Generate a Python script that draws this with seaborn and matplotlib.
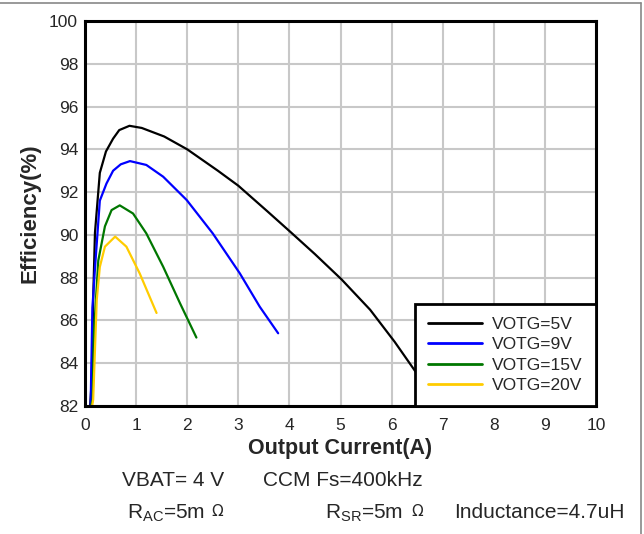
import numpy as np
import pandas as pd
import matplotlib
matplotlib.use('Agg')
import matplotlib.pyplot as plt
from matplotlib.lines import Line2D
import seaborn as sns

# efficiency curves
x_5v = [0.10, 0.13, 0.16, 0.195, 0.29, 0.41, 0.55, 0.67, 0.87, 1.11, 1.55, 2.0, 2.6, 3.0, 3.57, 4.01, 4.5, 5.02, 5.58, 6.06, 6.47, 6.9]
y_5v = [82.0, 83.1, 87.0, 90.1, 92.9, 93.9, 94.5, 94.9, 95.1, 95.0, 94.6, 94.0, 93.0, 92.3, 91.1, 90.16, 89.1, 87.92, 86.5, 85.0, 83.6, 82.2]

x_9v = [0.11, 0.145, 0.2, 0.29, 0.42, 0.55, 0.7, 0.88, 1.2, 1.53, 1.99, 2.5, 3.03, 3.42, 3.78]
y_9v = [82.0, 86.6, 88.6, 91.6, 92.4, 93.0, 93.3, 93.45, 93.27, 92.72, 91.63, 90.07, 88.2, 86.64, 85.4]

x_15v = [0.12, 0.15, 0.175, 0.26, 0.39, 0.52, 0.68, 0.94, 1.2, 1.53, 1.86, 2.18]
y_15v = [82.0, 82.3, 85.4, 88.8, 90.4, 91.16, 91.38, 91.0, 90.07, 88.51, 86.8, 85.2]

x_20v = [0.14, 0.16, 0.23, 0.29, 0.39, 0.59, 0.81, 1.07, 1.4]
y_20v = [82.0, 82.3, 86.96, 88.5, 89.45, 89.92, 89.45, 88.2, 86.35]

labels = ['VOTG=5V', 'VOTG=9V', 'VOTG=15V', 'VOTG=20V']
colors = ['#000000', '#0000ff', '#007700', '#ffcc00']

frames = []
for lab, xs, ys in zip(labels, [x_5v, x_9v, x_15v, x_20v], [y_5v, y_9v, y_15v, y_20v]):
    frames.append(pd.DataFrame({'current': xs, 'eff': ys, 'series': lab}))
df = pd.concat(frames, ignore_index=True)

sns.set_style('white')
plt.rcParams['font.family'] = ['Liberation Sans', 'DejaVu Sans']
plt.rcParams['mathtext.fontset'] = 'custom'
plt.rcParams['mathtext.rm'] = 'Liberation Sans'

fig = plt.figure(figsize=(6.44, 5.34), dpi=100)
ax = fig.add_axes([85 / 644, 1 - 406 / 534, 511 / 644, 385 / 534])

sns.lineplot(data=df, x='current', y='eff', hue='series', palette=colors,
             sort=False, estimator=None, linewidth=1.6, ax=ax, legend=False)

ax.set_xlim(0, 10)
ax.set_ylim(82, 100)
ax.set_xticks(range(0, 11))
ax.set_yticks(range(82, 101, 2))
ax.grid(True, color='#c8c8c8', linewidth=1.5)
ax.set_axisbelow(True)
ax.tick_params(axis='both', length=0, labelsize=12.5)
ax.tick_params(axis='x', pad=9)
ax.tick_params(axis='y', pad=5)
for s in ax.spines.values():
    s.set_visible(True)
    s.set_color('black')
    s.set_linewidth(2.2)
    s.set_zorder(6)

ax.set_xlabel('Output Current(A)', fontsize=15.5, fontweight='bold', labelpad=3)
ax.set_ylabel('Efficiency(%)', fontsize=16, fontweight='bold', labelpad=6)

handles = [Line2D([], [], color=c, linewidth=2) for c in colors]
leg = ax.legend(handles, labels, loc='lower right', borderaxespad=0, fancybox=False,
                edgecolor='black', framealpha=1, fontsize=12.5, handlelength=3.1,
                handletextpad=0.6, labelspacing=0.3, borderpad=0.75)
leg.get_frame().set_linewidth(2)
leg.set_zorder(7)

fs = 15
fig.text(122 / 644, 1 - 480 / 534, 'VBAT= 4 V', fontsize=fs, va='center')
fig.text(263 / 644, 1 - 480 / 534, 'CCM Fs=400kHz', fontsize=fs, va='center')
fig.text(127 / 644, 1 - 513 / 534, r'R$_{\mathrm{AC}}$=5m$\,$', fontsize=fs, va='center')
fig.text(325 / 644, 1 - 513 / 534, r'R$_{\mathrm{SR}}$=5m$\,$', fontsize=fs, va='center')
fig.text(211 / 644, 1 - 511 / 534, 'Ω', fontsize=11, va='center', family=['DejaVu Sans'])
fig.text(411 / 644, 1 - 511 / 534, 'Ω', fontsize=11, va='center', family=['DejaVu Sans'])
fig.text(454 / 644, 1 - 512 / 534, 'Inductance=4.7uH', fontsize=fs, va='center')

# gray frame of the screenshot (top and right edges)
fig.add_artist(Line2D([0, 641 / 644], [1 - 3 / 534, 1 - 3 / 534], color='#888888', linewidth=1.2))
fig.add_artist(Line2D([641 / 644, 641 / 644], [0, 1 - 3 / 534], color='#888888', linewidth=1.2))

fig.savefig('out.png', dpi=100)
